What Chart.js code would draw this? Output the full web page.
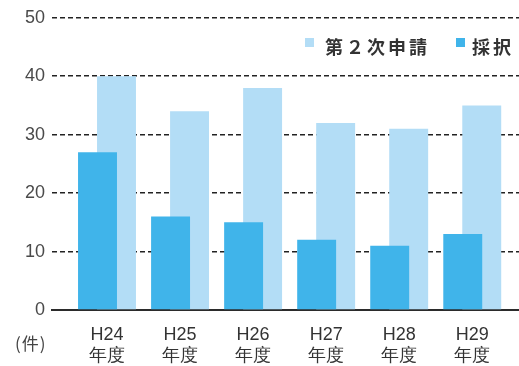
<!DOCTYPE html>
<html>
<head>
<meta charset="utf-8">
<script src="https://cdn.jsdelivr.net/npm/chart.js@4/dist/chart.umd.min.js"></script>
<style>
  html, body { margin: 0; padding: 0; background: #fff; }
  #wrap { width: 519px; height: 366px; position: relative; }
</style>
</head>
<body>
<div id="wrap"><canvas id="c" width="519" height="366"></canvas></div>
<script>
// 年度ごとの件数
const years = ['H24', 'H25', 'H26', 'H27', 'H28', 'H29'];
const yearSuffix = '年度';
const applied = [40, 34, 38, 32, 31, 35];   // 第２次申請
const adopted = [27, 16, 15, 12, 11, 13];   // 採択
const yTicks = [0, 10, 20, 30, 40, 50];
const unitLabel = '(件)';
const seriesNames = ['第２次申請', '採択'];

const DARK = '#40b4ea';
const LIGHT = '#b3ddf6';
const CJK = '"Noto Sans CJK JP", "Noto Sans", sans-serif';

// 凡例（プロット内右上）と単位ラベル
const overlayText = {
  id: 'overlayText',
  afterDraw(chart) {
    const ctx = chart.ctx;
    ctx.save();
    // 凡例: 申請 → 採択 の順で表示
    const items = chart.data.datasets.slice().reverse();
    const pos = [{ box: 305, text: 325 }, { box: 456, text: 472 }];
    ctx.font = 'bold 18px ' + CJK;
    ctx.textBaseline = 'middle';
    ctx.textAlign = 'left';
    items.forEach((ds, i) => {
      ctx.fillStyle = ds.backgroundColor;
      ctx.fillRect(pos[i].box, 38, 9, 9);
      ctx.fillStyle = '#333';
      ctx.letterSpacing = '3px';
      ctx.fillText(ds.label, pos[i].text, 47);
    });
    // 単位
    ctx.font = '17px ' + CJK;
    ctx.fillStyle = '#444';
    ctx.letterSpacing = '1px';
    ctx.fillText(unitLabel, 15, 344);
    ctx.letterSpacing = '0px';
    ctx.restore();
  }
};

new Chart(document.getElementById('c'), {
  type: 'bar',
  data: {
    datasets: [
      {
        label: seriesNames[1],
        data: adopted.map((v, i) => ({ x: i, y: v })),
        backgroundColor: DARK
      },
      {
        label: seriesNames[0],
        data: applied.map((v, i) => ({ x: i, y: v })),
        backgroundColor: LIGHT
      }
    ]
  },
  options: {
    responsive: false,
    animation: false,
    devicePixelRatio: 1,
    categoryPercentage: 0.52,
    barPercentage: 2.05,
    layout: { padding: { top: 17, right: 0, bottom: 0, left: 0 } },
    plugins: {
      legend: { display: false },
      tooltip: { enabled: false }
    },
    scales: {
      x: {
        type: 'linear',
        offset: false,
        min: -0.753,
        max: 5.64,
        grid: { display: false },
        border: { display: true, color: '#2b2b2b', width: 2 },
        afterFit(scale) { scale.height = 56; },
        ticks: {
          stepSize: 1,
          includeBounds: false,
          autoSkip: false,
          maxRotation: 0,
          padding: 6,
          color: '#333',
          font: { family: 'Liberation Sans, Arial, sans-serif', size: 18, lineHeight: 1.2 },
          callback: (v) => (Number.isInteger(v) && years[v]) ? [years[v], yearSuffix] : ''
        }
      },
      y: {
        min: 0,
        max: 50,
        afterFit(scale) { scale.width = 52; },
        afterBuildTicks(scale) { scale.ticks = yTicks.map(v => ({ value: v })); },
        grid: {
          color: '#222',
          lineWidth: 1.6,
          drawTicks: false
        },
        border: { display: false, dash: [5, 3] },
        ticks: {
          padding: 7,
          color: '#4a4a4a',
          font: { family: 'Liberation Sans, Arial, sans-serif', size: 18 }
        }
      }
    }
  },
  plugins: [overlayText]
});
</script>
</body>
</html>
